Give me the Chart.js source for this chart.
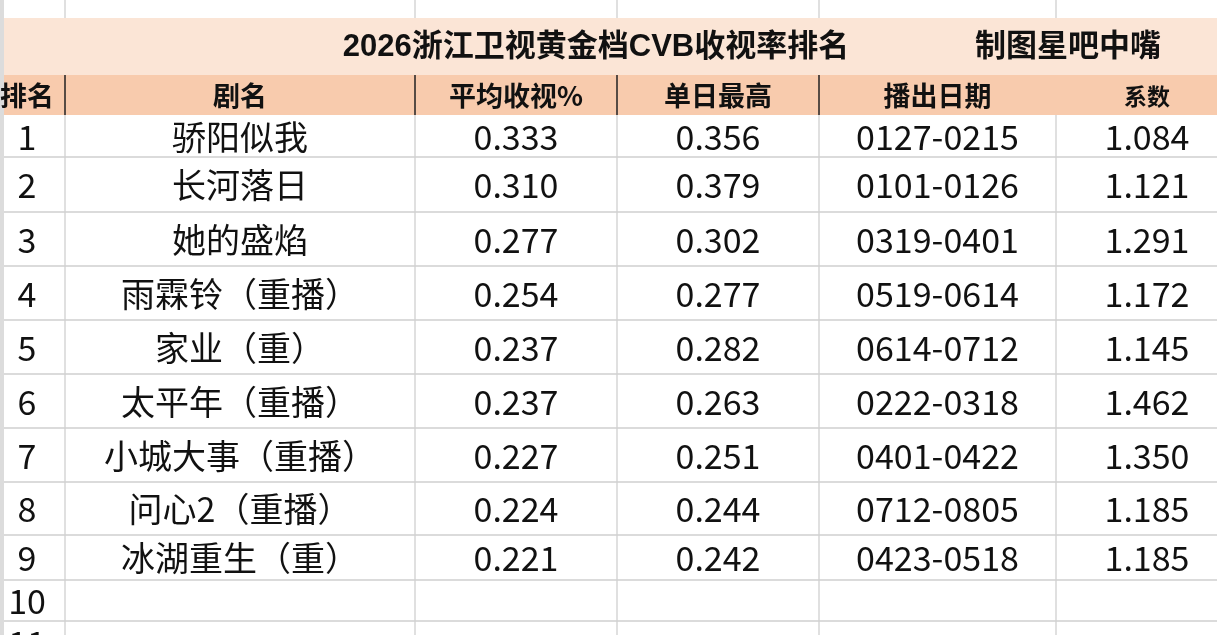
<!DOCTYPE html>
<html>
<head>
<meta charset="utf-8">
<script src="https://cdn.jsdelivr.net/npm/chart.js@4"></script>
<style>
  html, body { margin: 0; padding: 0; background: #fff; }
  #wrap { width: 1217px; height: 635px; overflow: hidden; }
</style>
</head>
<body>
<div id="wrap"><canvas id="sheet" width="1217" height="635"></canvas></div>
<script>
// table data
const chartTitle = '2026浙江卫视黄金档CVB收视率排名';
const chartCredit = '制图星吧中嘴';
const columnNames = ['排名', '剧名', '平均收视%', '单日最高', '播出日期', '系数'];
const ranks = [1, 2, 3, 4, 5, 6, 7, 8, 9];
const shows = ['骄阳似我', '长河落日', '她的盛焰', '雨霖铃（重播）', '家业（重）', '太平年（重播）', '小城大事（重播）', '问心2（重播）', '冰湖重生（重）'];
const avgRatings = [0.333, 0.310, 0.277, 0.254, 0.237, 0.237, 0.227, 0.224, 0.221];
const peakRatings = [0.356, 0.379, 0.302, 0.277, 0.282, 0.263, 0.251, 0.244, 0.242];
const airDates = ['0127-0215', '0101-0126', '0319-0401', '0519-0614', '0614-0712', '0222-0318', '0401-0422', '0712-0805', '0423-0518'];
const coefficients = [1.084, 1.121, 1.291, 1.172, 1.145, 1.462, 1.350, 1.185, 1.185];
const emptyRows = [10, 11];

// sheet layout (in scale units)
const colEdges = [-11, 65, 415, 617, 819, 1056, 1238];
const rowEdges = [0, 18, 75, 115, 157, 212, 266, 320, 374, 428, 482, 535, 580, 621, 664];
const TITLE_ROW = 1, HEAD_ROW = 2, FIRST_BODY = 3;

const BODY_FONT = '400 34px "Noto Sans CJK SC", "Noto Sans", sans-serif';
const HEAD_FONT = '700 27px "Noto Sans CJK SC", sans-serif';
const SMALL_HEAD_FONT = '700 23px "Noto Sans CJK SC", sans-serif';
const TITLE_FONT = '700 31px "Liberation Sans", "Noto Sans CJK SC", sans-serif';

const colMid = c => (colEdges[c] + colEdges[c + 1]) / 2;
const rowMid = r => (rowEdges[r] + rowEdges[r + 1]) / 2;

const columnTexts = [
  ranks.map(String).concat(emptyRows.map(String)),
  shows,
  avgRatings.map(v => v.toFixed(3)),
  peakRatings.map(v => v.toFixed(3)),
  airDates,
  coefficients.map(v => v.toFixed(3))
];

// one dataset per column: header cell + body cells
const datasets = columnNames.map((name, c) => {
  const texts = [name].concat(columnTexts[c]);
  return {
    label: name,
    texts: texts,
    data: texts.map((t, i) => ({ x: colMid(c), y: rowMid(HEAD_ROW + i) })),
    pointRadius: 0,
    showLine: false
  };
});
datasets.push({
  label: 'title',
  texts: [chartTitle, chartCredit],
  data: [{ x: 596, y: rowMid(TITLE_ROW) }, { x: 1068, y: rowMid(TITLE_ROW) }],
  pointRadius: 0,
  showLine: false
});

const sheetPlugin = {
  id: 'sheet',
  beforeDatasetsDraw(chart) {
    const { ctx, scales: { x, y } } = chart;
    const X = v => x.getPixelForValue(v), Y = v => y.getPixelForValue(v);
    ctx.save();
    // band fills
    ctx.fillStyle = '#fbe5d6';
    ctx.fillRect(X(0), Y(rowEdges[TITLE_ROW]), X(1217) - X(0), Y(rowEdges[HEAD_ROW]) - Y(rowEdges[TITLE_ROW]));
    ctx.fillStyle = '#f8cbad';
    ctx.fillRect(X(0), Y(rowEdges[HEAD_ROW]), X(1217) - X(0), Y(rowEdges[FIRST_BODY]) - Y(rowEdges[HEAD_ROW]));
    // light grid
    ctx.strokeStyle = '#d0d0d0';
    ctx.lineWidth = 1.3;
    ctx.beginPath();
    for (let r = FIRST_BODY + 1; r < rowEdges.length - 1; r++) {
      ctx.moveTo(X(0), Y(rowEdges[r]));
      ctx.lineTo(X(1217), Y(rowEdges[r]));
    }
    for (let c = 1; c < colEdges.length - 1; c++) {
      ctx.moveTo(X(colEdges[c]), Y(rowEdges[0]));
      ctx.lineTo(X(colEdges[c]), Y(rowEdges[TITLE_ROW]));
      ctx.moveTo(X(colEdges[c]), Y(rowEdges[FIRST_BODY]));
      ctx.lineTo(X(colEdges[c]), Y(rowEdges[rowEdges.length - 1]));
    }
    ctx.stroke();
    // dark header separators
    ctx.strokeStyle = '#222';
    ctx.lineWidth = 1.5;
    ctx.beginPath();
    for (let c = 1; c < colEdges.length - 2; c++) {
      ctx.moveTo(X(colEdges[c]), Y(rowEdges[HEAD_ROW]));
      ctx.lineTo(X(colEdges[c]), Y(rowEdges[FIRST_BODY]));
    }
    ctx.stroke();
    // sheet frame on the left
    ctx.fillStyle = '#dcdcdc';
    ctx.fillRect(X(0), Y(0), 4, Y(635) - Y(0));
    ctx.restore();
  },
  afterDatasetsDraw(chart) {
    const { ctx } = chart;
    ctx.save();
    ctx.textAlign = 'center';
    ctx.textBaseline = 'middle';
    ctx.fillStyle = '#111';
    chart.data.datasets.forEach((ds, di) => {
      const meta = chart.getDatasetMeta(di);
      meta.data.forEach((pt, i) => {
        if (ds.label === 'title') ctx.font = TITLE_FONT;
        else if (i === 0) ctx.font = ds.label === '系数' ? SMALL_HEAD_FONT : HEAD_FONT;
        else ctx.font = BODY_FONT;
        ctx.fillText(ds.texts[i], pt.x, pt.y + 1);
      });
    });
    ctx.restore();
  }
};

new Chart(document.getElementById('sheet'), {
  type: 'scatter',
  data: { datasets: datasets },
  options: {
    responsive: false,
    animation: false,
    layout: { padding: 0 },
    plugins: { legend: { display: false }, tooltip: { enabled: false } },
    scales: {
      x: { type: 'linear', min: 0, max: 1217, display: false },
      y: { type: 'linear', min: 0, max: 635, reverse: true, display: false }
    }
  },
  plugins: [sheetPlugin]
});
</script>
</body>
</html>
